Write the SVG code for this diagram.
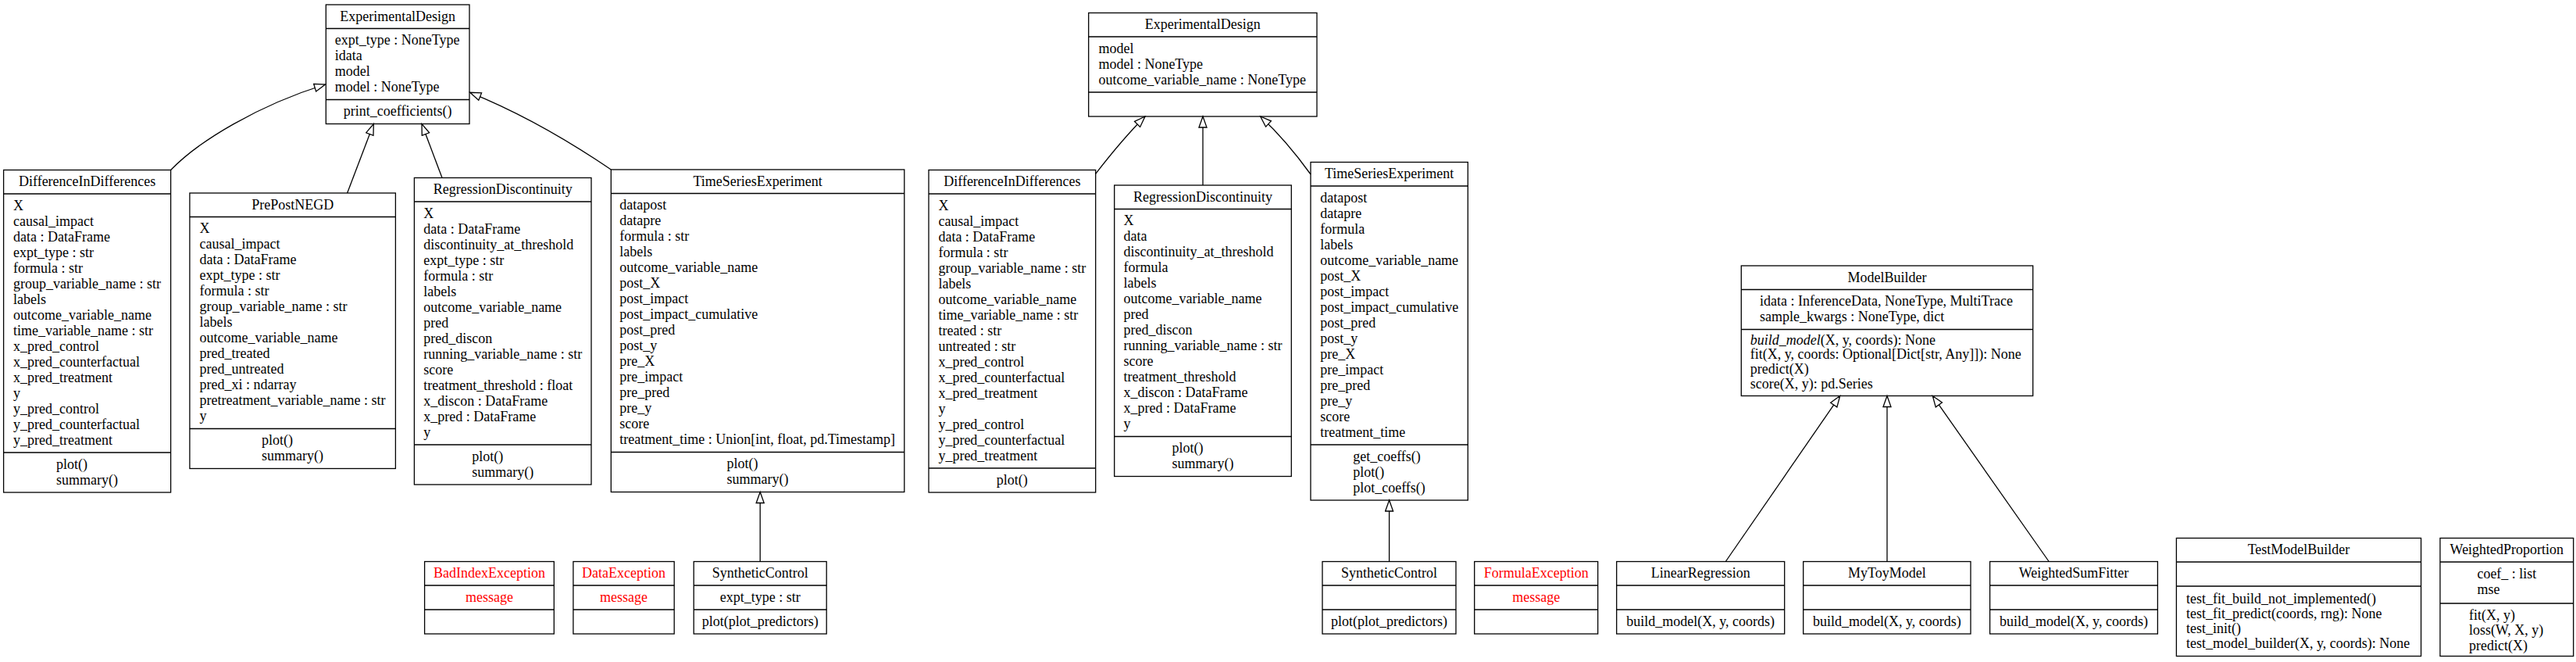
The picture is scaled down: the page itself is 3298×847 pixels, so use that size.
<svg xmlns="http://www.w3.org/2000/svg" width="3298" height="847" viewBox="0 0 3298 847">
<defs>
<style>
.box{fill:#fff;stroke:#000;stroke-width:1.3}
.sep{stroke:#000;stroke-width:1.3}
text{font-family:"Liberation Serif","Times New Roman",serif;font-size:18px;fill:#000}
.c{text-anchor:middle}
.exc{fill:#ff0000}
.edge{fill:none;stroke:#000;stroke-width:1.3;marker-end:url(#inh)}
</style>
<marker id="inh" markerWidth="18" markerHeight="14" refX="15" refY="6" orient="auto" markerUnits="userSpaceOnUse">
<path d="M1,1 L15,6 L1,11 Z" fill="#fff" stroke="#000" stroke-width="1.3"/>
</marker>
</defs>
<rect width="3298" height="847" fill="#fff"/>

<g id="ExperimentalDesign1">
<rect class="box" x="417.3" y="6" width="183.7" height="152.5"/>
<line class="sep" x1="417.3" y1="36.5" x2="601" y2="36.5"/>
<line class="sep" x1="417.3" y1="127.5" x2="601" y2="127.5"/>
<text class="c" x="509.15" y="26.5">ExperimentalDesign</text>
<text x="428.7" y="57"><tspan x="428.7" dy="0">expt_type : NoneType</tspan><tspan x="428.7" dy="20">idata</tspan><tspan x="428.7" dy="20">model</tspan><tspan x="428.7" dy="20">model : NoneType</tspan></text>
<text class="c" x="509.15" y="148">print_coefficients()</text>
</g>

<g id="DifferenceInDifferences1">
<rect class="box" x="4.6" y="217.5" width="214" height="412.5"/>
<line class="sep" x1="4.6" y1="248" x2="218.6" y2="248"/>
<line class="sep" x1="4.6" y1="579" x2="218.6" y2="579"/>
<text class="c" x="111.6" y="238">DifferenceInDifferences</text>
<text x="17" y="268.5"><tspan x="17" dy="0">X</tspan><tspan x="17" dy="20">causal_impact</tspan><tspan x="17" dy="20">data : DataFrame</tspan><tspan x="17" dy="20">expt_type : str</tspan><tspan x="17" dy="20">formula : str</tspan><tspan x="17" dy="20">group_variable_name : str</tspan><tspan x="17" dy="20">labels</tspan><tspan x="17" dy="20">outcome_variable_name</tspan><tspan x="17" dy="20">time_variable_name : str</tspan><tspan x="17" dy="20">x_pred_control</tspan><tspan x="17" dy="20">x_pred_counterfactual</tspan><tspan x="17" dy="20">x_pred_treatment</tspan><tspan x="17" dy="20">y</tspan><tspan x="17" dy="20">y_pred_control</tspan><tspan x="17" dy="20">y_pred_counterfactual</tspan><tspan x="17" dy="20">y_pred_treatment</tspan></text>
<text x="72" y="599.5"><tspan x="72" dy="0">plot()</tspan><tspan x="72" dy="20">summary()</tspan></text>
</g>

<g id="PrePostNEGD">
<rect class="box" x="242.9" y="247" width="263.5" height="352.5"/>
<line class="sep" x1="242.9" y1="277.5" x2="506.4" y2="277.5"/>
<line class="sep" x1="242.9" y1="548.5" x2="506.4" y2="548.5"/>
<text class="c" x="374.65" y="267.5">PrePostNEGD</text>
<text x="255.6" y="298"><tspan x="255.6" dy="0">X</tspan><tspan x="255.6" dy="20">causal_impact</tspan><tspan x="255.6" dy="20">data : DataFrame</tspan><tspan x="255.6" dy="20">expt_type : str</tspan><tspan x="255.6" dy="20">formula : str</tspan><tspan x="255.6" dy="20">group_variable_name : str</tspan><tspan x="255.6" dy="20">labels</tspan><tspan x="255.6" dy="20">outcome_variable_name</tspan><tspan x="255.6" dy="20">pred_treated</tspan><tspan x="255.6" dy="20">pred_untreated</tspan><tspan x="255.6" dy="20">pred_xi : ndarray</tspan><tspan x="255.6" dy="20">pretreatment_variable_name : str</tspan><tspan x="255.6" dy="20">y</tspan></text>
<text x="335" y="569"><tspan x="335" dy="0">plot()</tspan><tspan x="335" dy="20">summary()</tspan></text>
</g>

<g id="RegressionDiscontinuity1">
<rect class="box" x="530.4" y="227.5" width="226.6" height="392.5"/>
<line class="sep" x1="530.4" y1="258" x2="757" y2="258"/>
<line class="sep" x1="530.4" y1="569" x2="757" y2="569"/>
<text class="c" x="643.7" y="248">RegressionDiscontinuity</text>
<text x="542.2" y="278.5"><tspan x="542.2" dy="0">X</tspan><tspan x="542.2" dy="20">data : DataFrame</tspan><tspan x="542.2" dy="20">discontinuity_at_threshold</tspan><tspan x="542.2" dy="20">expt_type : str</tspan><tspan x="542.2" dy="20">formula : str</tspan><tspan x="542.2" dy="20">labels</tspan><tspan x="542.2" dy="20">outcome_variable_name</tspan><tspan x="542.2" dy="20">pred</tspan><tspan x="542.2" dy="20">pred_discon</tspan><tspan x="542.2" dy="20">running_variable_name : str</tspan><tspan x="542.2" dy="20">score</tspan><tspan x="542.2" dy="20">treatment_threshold : float</tspan><tspan x="542.2" dy="20">x_discon : DataFrame</tspan><tspan x="542.2" dy="20">x_pred : DataFrame</tspan><tspan x="542.2" dy="20">y</tspan></text>
<text x="604.2" y="589.5"><tspan x="604.2" dy="0">plot()</tspan><tspan x="604.2" dy="20">summary()</tspan></text>
</g>

<g id="TimeSeriesExperiment1">
<rect class="box" x="782.3" y="217" width="375.5" height="412.5"/>
<line class="sep" x1="782.3" y1="247.5" x2="1157.8" y2="247.5"/>
<line class="sep" x1="782.3" y1="578.5" x2="1157.8" y2="578.5"/>
<text class="c" x="970.05" y="237.5">TimeSeriesExperiment</text>
<text x="793.3" y="268"><tspan x="793.3" dy="0">datapost</tspan><tspan x="793.3" dy="20">datapre</tspan><tspan x="793.3" dy="20">formula : str</tspan><tspan x="793.3" dy="20">labels</tspan><tspan x="793.3" dy="20">outcome_variable_name</tspan><tspan x="793.3" dy="20">post_X</tspan><tspan x="793.3" dy="20">post_impact</tspan><tspan x="793.3" dy="20">post_impact_cumulative</tspan><tspan x="793.3" dy="20">post_pred</tspan><tspan x="793.3" dy="20">post_y</tspan><tspan x="793.3" dy="20">pre_X</tspan><tspan x="793.3" dy="20">pre_impact</tspan><tspan x="793.3" dy="20">pre_pred</tspan><tspan x="793.3" dy="20">pre_y</tspan><tspan x="793.3" dy="20">score</tspan><tspan x="793.3" dy="20">treatment_time : Union[int, float, pd.Timestamp]</tspan></text>
<text x="930.5" y="599"><tspan x="930.5" dy="0">plot()</tspan><tspan x="930.5" dy="20">summary()</tspan></text>
</g>

<g id="BadIndexException">
<rect class="box" x="543.6" y="718.5" width="165.7" height="92.5"/>
<line class="sep" x1="543.6" y1="749" x2="709.3" y2="749"/>
<line class="sep" x1="543.6" y1="780" x2="709.3" y2="780"/>
<text class="c exc" x="626.45" y="739">BadIndexException</text>
<text class="c exc" x="626.45" y="769.5">message</text>
</g>

<g id="DataException">
<rect class="box" x="733.9" y="718.5" width="129.3" height="92.5"/>
<line class="sep" x1="733.9" y1="749" x2="863.2" y2="749"/>
<line class="sep" x1="733.9" y1="780" x2="863.2" y2="780"/>
<text class="c exc" x="798.55" y="739">DataException</text>
<text class="c exc" x="798.55" y="769.5">message</text>
</g>

<g id="SyntheticControl1">
<rect class="box" x="888.2" y="718.5" width="170" height="92.5"/>
<line class="sep" x1="888.2" y1="749" x2="1058.2" y2="749"/>
<line class="sep" x1="888.2" y1="780" x2="1058.2" y2="780"/>
<text class="c" x="973.2" y="739">SyntheticControl</text>
<text class="c" x="973.2" y="769.5">expt_type : str</text>
<text class="c" x="973.2" y="800.5">plot(plot_predictors)</text>
</g>

<g id="ExperimentalDesign2">
<rect class="box" x="1393.7" y="16.5" width="292.3" height="132.5"/>
<line class="sep" x1="1393.7" y1="47" x2="1686" y2="47"/>
<line class="sep" x1="1393.7" y1="118" x2="1686" y2="118"/>
<text class="c" x="1539.85" y="37">ExperimentalDesign</text>
<text x="1406.4" y="67.5"><tspan x="1406.4" dy="0">model</tspan><tspan x="1406.4" dy="20">model : NoneType</tspan><tspan x="1406.4" dy="20">outcome_variable_name : NoneType</tspan></text>
</g>

<g id="DifferenceInDifferences2">
<rect class="box" x="1189" y="217.5" width="213.7" height="412.5"/>
<line class="sep" x1="1189" y1="248" x2="1402.7" y2="248"/>
<line class="sep" x1="1189" y1="599" x2="1402.7" y2="599"/>
<text class="c" x="1295.85" y="238">DifferenceInDifferences</text>
<text x="1201.4" y="268.5"><tspan x="1201.4" dy="0">X</tspan><tspan x="1201.4" dy="20">causal_impact</tspan><tspan x="1201.4" dy="20">data : DataFrame</tspan><tspan x="1201.4" dy="20">formula : str</tspan><tspan x="1201.4" dy="20">group_variable_name : str</tspan><tspan x="1201.4" dy="20">labels</tspan><tspan x="1201.4" dy="20">outcome_variable_name</tspan><tspan x="1201.4" dy="20">time_variable_name : str</tspan><tspan x="1201.4" dy="20">treated : str</tspan><tspan x="1201.4" dy="20">untreated : str</tspan><tspan x="1201.4" dy="20">x_pred_control</tspan><tspan x="1201.4" dy="20">x_pred_counterfactual</tspan><tspan x="1201.4" dy="20">x_pred_treatment</tspan><tspan x="1201.4" dy="20">y</tspan><tspan x="1201.4" dy="20">y_pred_control</tspan><tspan x="1201.4" dy="20">y_pred_counterfactual</tspan><tspan x="1201.4" dy="20">y_pred_treatment</tspan></text>
<text class="c" x="1295.85" y="619.5">plot()</text>
</g>

<g id="RegressionDiscontinuity2">
<rect class="box" x="1426.7" y="237" width="226.6" height="372.5"/>
<line class="sep" x1="1426.7" y1="267.5" x2="1653.3" y2="267.5"/>
<line class="sep" x1="1426.7" y1="558.5" x2="1653.3" y2="558.5"/>
<text class="c" x="1540" y="257.5">RegressionDiscontinuity</text>
<text x="1438.5" y="288"><tspan x="1438.5" dy="0">X</tspan><tspan x="1438.5" dy="20">data</tspan><tspan x="1438.5" dy="20">discontinuity_at_threshold</tspan><tspan x="1438.5" dy="20">formula</tspan><tspan x="1438.5" dy="20">labels</tspan><tspan x="1438.5" dy="20">outcome_variable_name</tspan><tspan x="1438.5" dy="20">pred</tspan><tspan x="1438.5" dy="20">pred_discon</tspan><tspan x="1438.5" dy="20">running_variable_name : str</tspan><tspan x="1438.5" dy="20">score</tspan><tspan x="1438.5" dy="20">treatment_threshold</tspan><tspan x="1438.5" dy="20">x_discon : DataFrame</tspan><tspan x="1438.5" dy="20">x_pred : DataFrame</tspan><tspan x="1438.5" dy="20">y</tspan></text>
<text x="1500.5" y="579"><tspan x="1500.5" dy="0">plot()</tspan><tspan x="1500.5" dy="20">summary()</tspan></text>
</g>

<g id="TimeSeriesExperiment2">
<rect class="box" x="1678" y="207.5" width="201.3" height="432.5"/>
<line class="sep" x1="1678" y1="238" x2="1879.3" y2="238"/>
<line class="sep" x1="1678" y1="569" x2="1879.3" y2="569"/>
<text class="c" x="1778.65" y="228">TimeSeriesExperiment</text>
<text x="1690.2" y="258.5"><tspan x="1690.2" dy="0">datapost</tspan><tspan x="1690.2" dy="20">datapre</tspan><tspan x="1690.2" dy="20">formula</tspan><tspan x="1690.2" dy="20">labels</tspan><tspan x="1690.2" dy="20">outcome_variable_name</tspan><tspan x="1690.2" dy="20">post_X</tspan><tspan x="1690.2" dy="20">post_impact</tspan><tspan x="1690.2" dy="20">post_impact_cumulative</tspan><tspan x="1690.2" dy="20">post_pred</tspan><tspan x="1690.2" dy="20">post_y</tspan><tspan x="1690.2" dy="20">pre_X</tspan><tspan x="1690.2" dy="20">pre_impact</tspan><tspan x="1690.2" dy="20">pre_pred</tspan><tspan x="1690.2" dy="20">pre_y</tspan><tspan x="1690.2" dy="20">score</tspan><tspan x="1690.2" dy="20">treatment_time</tspan></text>
<text x="1732.2" y="589.5"><tspan x="1732.2" dy="0">get_coeffs()</tspan><tspan x="1732.2" dy="20">plot()</tspan><tspan x="1732.2" dy="20">plot_coeffs()</tspan></text>
</g>

<g id="SyntheticControl2">
<rect class="box" x="1693" y="718.5" width="171" height="92.5"/>
<line class="sep" x1="1693" y1="749" x2="1864" y2="749"/>
<line class="sep" x1="1693" y1="780" x2="1864" y2="780"/>
<text class="c" x="1778.5" y="739">SyntheticControl</text>
<text class="c" x="1778.5" y="800.5">plot(plot_predictors)</text>
</g>

<g id="FormulaException">
<rect class="box" x="1887.7" y="718.5" width="158" height="92.5"/>
<line class="sep" x1="1887.7" y1="749" x2="2045.7" y2="749"/>
<line class="sep" x1="1887.7" y1="780" x2="2045.7" y2="780"/>
<text class="c exc" x="1966.7" y="739">FormulaException</text>
<text class="c exc" x="1966.7" y="769.5">message</text>
</g>

<g id="ModelBuilder">
<rect class="box" x="2229.3" y="340" width="373.4" height="166.5"/>
<line class="sep" x1="2229.3" y1="370.5" x2="2602.7" y2="370.5"/>
<line class="sep" x1="2229.3" y1="421.5" x2="2602.7" y2="421.5"/>
<text class="c" x="2416" y="360.5">ModelBuilder</text>
<text x="2253" y="391"><tspan x="2253" dy="0">idata : InferenceData, NoneType, MultiTrace</tspan><tspan x="2253" dy="20">sample_kwargs : NoneType, dict</tspan></text>
<text x="2240.8" y="440.5"><tspan font-style="italic">build_model</tspan>(X, y, coords): None</text>
<text x="2240.8" y="459">fit(X, y, coords: Optional[Dict[str, Any]]): None</text>
<text x="2240.8" y="478">predict(X)</text>
<text x="2240.8" y="496.5">score(X, y): pd.Series</text>
</g>

<g id="LinearRegression">
<rect class="box" x="2069.7" y="718.5" width="215" height="92.5"/>
<line class="sep" x1="2069.7" y1="749" x2="2284.7" y2="749"/>
<line class="sep" x1="2069.7" y1="780" x2="2284.7" y2="780"/>
<text class="c" x="2177.2" y="739">LinearRegression</text>
<text class="c" x="2177.2" y="800.5">build_model(X, y, coords)</text>
</g>

<g id="MyToyModel">
<rect class="box" x="2308.7" y="718.5" width="214.3" height="92.5"/>
<line class="sep" x1="2308.7" y1="749" x2="2523" y2="749"/>
<line class="sep" x1="2308.7" y1="780" x2="2523" y2="780"/>
<text class="c" x="2415.85" y="739">MyToyModel</text>
<text class="c" x="2415.85" y="800.5">build_model(X, y, coords)</text>
</g>

<g id="WeightedSumFitter">
<rect class="box" x="2547.6" y="718.5" width="214.8" height="92.5"/>
<line class="sep" x1="2547.6" y1="749" x2="2762.4" y2="749"/>
<line class="sep" x1="2547.6" y1="780" x2="2762.4" y2="780"/>
<text class="c" x="2655" y="739">WeightedSumFitter</text>
<text class="c" x="2655" y="800.5">build_model(X, y, coords)</text>
</g>

<g id="TestModelBuilder">
<rect class="box" x="2786.4" y="688.5" width="313.2" height="151"/>
<line class="sep" x1="2786.4" y1="719" x2="3099.6" y2="719"/>
<line class="sep" x1="2786.4" y1="750" x2="3099.6" y2="750"/>
<text class="c" x="2943" y="709">TestModelBuilder</text>
<text x="2799" y="771.5">test_fit_build_not_implemented()</text>
<text x="2799" y="790.6">test_fit_predict(coords, rng): None</text>
<text x="2799" y="809.7">test_init()</text>
<text x="2799" y="828.8">test_model_builder(X, y, coords): None</text>
</g>

<g id="WeightedProportion">
<rect class="box" x="3124" y="688.5" width="170.7" height="151"/>
<line class="sep" x1="3124" y1="719" x2="3294.7" y2="719"/>
<line class="sep" x1="3124" y1="772" x2="3294.7" y2="772"/>
<text class="c" x="3209.35" y="709">WeightedProportion</text>
<text x="3171.4" y="740">coef_ : list</text>
<text x="3171.4" y="759.5">mse</text>
<text x="3161" y="793.2">fit(X, y)</text>
<text x="3161" y="812.2">loss(W, X, y)</text>
<text x="3161" y="831.5">predict(X)</text>
</g>

<g id="connectors">
<path class="edge" d="M218.6,217.5 C255,180 330,135 416.5,108"/>
<path class="edge" d="M444.6,247 L478.3,158.5"/>
<path class="edge" d="M566,227.5 L540,158.5"/>
<path class="edge" d="M782.3,217 C750,195 680,150 601.7,118.3"/>
<path class="edge" d="M973.2,718.5 L973.2,629.5"/>
<path class="edge" d="M1402.7,222.4 C1420,200 1440,175 1466,149"/>
<path class="edge" d="M1540,237 L1540,149"/>
<path class="edge" d="M1678,223 C1665,205 1645,178 1613.7,149"/>
<path class="edge" d="M1778.6,718.5 L1778.6,640"/>
<path class="edge" d="M2209.3,718.5 L2355.7,506.5"/>
<path class="edge" d="M2416,718.5 L2416,506.5"/>
<path class="edge" d="M2623.2,718.5 L2474.3,506.5"/>
</g>
</svg>
